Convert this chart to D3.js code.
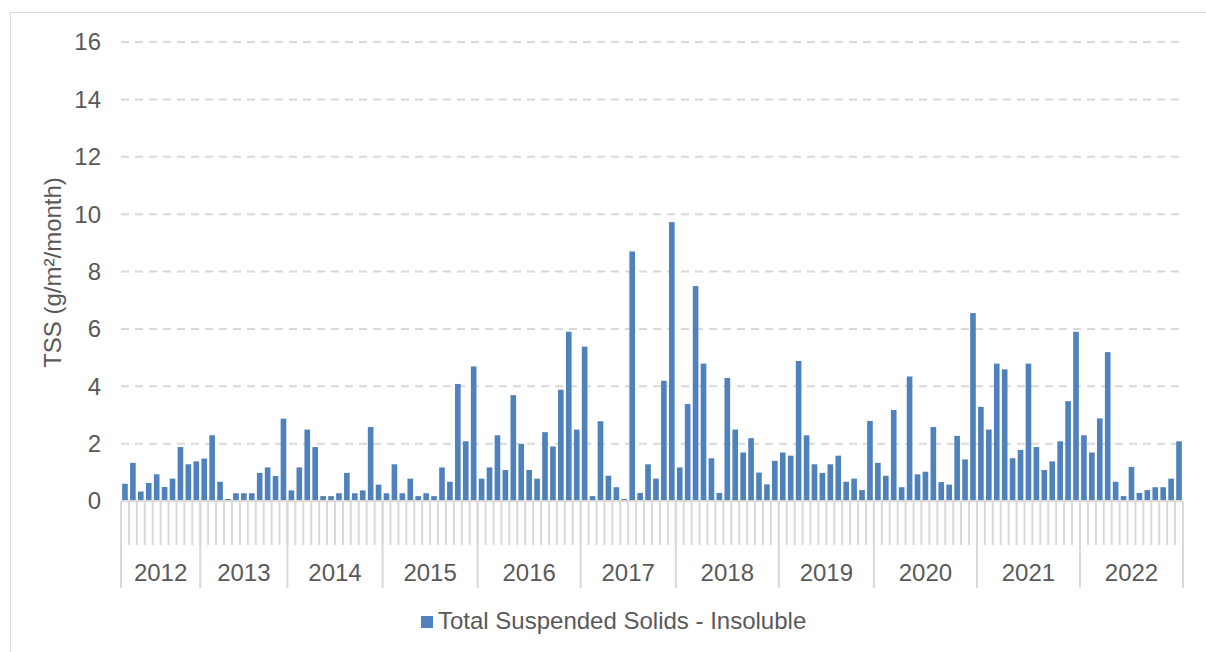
<!DOCTYPE html>
<html>
<head>
  <meta charset="UTF-8">
  <style>
    body { margin: 0; background: #fff; }
    svg { display: block; font-family: "Liberation Sans", Arial, Helvetica, sans-serif; }
    .tick-label { fill: #595959; font-size: 24px; }
    .grid { stroke: #d9d9d9; stroke-width: 2px; stroke-dasharray: 8, 6; }
    .axis-line { stroke: #d9d9d9; stroke-width: 2px; }
  </style>
</head>
<body>
<svg></svg>
<script src="https://d3js.org/d3.v7.min.js"></script>
<script>

// years shown on the category axis, and the samples in each year
let years = ["2012", "2013", "2014", "2015", "2016", "2017", "2018", "2019", "2020", "2021", "2022"];

let tss2012 = [0.6, 1.33, 0.33, 0.63, 0.93, 0.49, 0.78, 1.88, 1.28, 1.38];
let tss2013 = [1.48, 2.29, 0.67, 0.07, 0.27, 0.27, 0.27, 0.98, 1.17, 0.87, 2.87];
let tss2014 = [0.37, 1.17, 2.49, 1.88, 0.17, 0.17, 0.27, 0.98, 0.27, 0.37, 2.58, 0.57];
let tss2015 = [0.27, 1.28, 0.27, 0.78, 0.17, 0.27, 0.17, 1.17, 0.67, 4.08, 2.08, 4.69];
let tss2016 = [0.78, 1.17, 2.29, 1.08, 3.69, 1.99, 1.08, 0.78, 2.4, 1.9, 3.88, 5.9, 2.49];
let tss2017 = [5.38, 0.17, 2.78, 0.88, 0.48, 0.07, 8.7, 0.28, 1.28, 0.78, 4.19, 9.72];
let tss2018 = [1.17, 3.38, 7.49, 4.79, 1.49, 0.28, 4.29, 2.49, 1.69, 2.19, 0.99, 0.58, 1.4];
let tss2019 = [1.69, 1.58, 4.88, 2.29, 1.28, 0.98, 1.28, 1.58, 0.67, 0.78, 0.38, 2.79];
let tss2020 = [1.33, 0.88, 3.17, 0.48, 4.34, 0.93, 1.02, 2.58, 0.66, 0.57, 2.27, 1.45, 6.55];
let tss2021 = [3.28, 2.49, 4.79, 4.59, 1.49, 1.78, 4.79, 1.88, 1.08, 1.38, 2.08, 3.48, 5.9];
let tss2022 = [2.29, 1.69, 2.88, 5.19, 0.67, 0.17, 1.19, 0.28, 0.38, 0.48, 0.48, 0.78, 2.08];

let yTicks = [0, 2, 4, 6, 8, 10, 12, 14, 16];
let yTitle = "TSS (g/m²/month)";
let seriesName = "Total Suspended Solids - Insoluble";

let tssByYear = [tss2012, tss2013, tss2014, tss2015, tss2016, tss2017,
                 tss2018, tss2019, tss2020, tss2021, tss2022];

// flatten into one row per bar
let rows = [];
tssByYear.forEach((vals, yi) => {
    vals.forEach(v => rows.push({ year: years[yi], idx: rows.length, value: v }));
});

let width = 1206, height = 652;
let plotLeft = 121, plotRight = 1183, plotTop = 42, plotBottom = 501;

let svg = d3.select("svg")
    .attr("width", width)
    .attr("height", height);

// chart border
svg.append("rect")
    .attr("x", 10.5).attr("y", 12.5)
    .attr("width", 1220).attr("height", 680)
    .attr("fill", "none")
    .attr("stroke", "#d9d9d9")
    .attr("stroke-width", 1);

let x = d3.scaleBand()
    .domain(rows.map(d => d.idx))
    .range([plotLeft, plotRight])
    .paddingInner(0.29)
    .paddingOuter(0.145);

let y = d3.scaleLinear()
    .domain([0, 16])
    .range([plotBottom, plotTop]);

// gridlines
svg.append("g")
    .selectAll("line")
    .data(yTicks.filter(t => t > 0))
    .enter().append("line")
    .attr("class", "grid")
    .attr("x1", plotLeft).attr("x2", plotRight)
    .attr("y1", d => y(d)).attr("y2", d => y(d));

// y tick labels
svg.append("g")
    .selectAll("text")
    .data(yTicks)
    .enter().append("text")
    .attr("class", "tick-label")
    .attr("x", 101)
    .attr("y", d => y(d))
    .attr("dy", "0.35em")
    .attr("text-anchor", "end")
    .text(d => d);

// y title
svg.append("text")
    .attr("class", "tick-label")
    .attr("transform", "translate(61," + ((plotTop + plotBottom) / 2 + 1) + ") rotate(-90)")
    .attr("text-anchor", "middle")
    .text(yTitle);

// bars
svg.append("g")
    .selectAll("rect")
    .data(rows)
    .enter().append("rect")
    .attr("x", d => x(d.idx))
    .attr("width", x.bandwidth())
    .attr("y", d => y(d.value))
    .attr("height", d => y(0) - y(d.value))
    .attr("fill", "#4f81bd");

// category axis: short ticks between samples, long ticks between years
let step = x.step();
let boundaries = d3.range(rows.length + 1).map(i => plotLeft + i * step);

svg.append("g")
    .selectAll("line")
    .data(boundaries)
    .enter().append("line")
    .attr("class", "axis-line")
    .attr("x1", d => d).attr("x2", d => d)
    .attr("y1", plotBottom).attr("y2", 545);

let groups = [];
let start = 0;
tssByYear.forEach((vals, yi) => {
    groups.push({ year: years[yi], x0: plotLeft + start * step, x1: plotLeft + (start + vals.length) * step });
    start += vals.length;
});

let groupEdges = [plotLeft].concat(groups.map(g => g.x1));
svg.append("g")
    .selectAll("line")
    .data(groupEdges)
    .enter().append("line")
    .attr("class", "axis-line")
    .attr("x1", d => d).attr("x2", d => d)
    .attr("y1", plotBottom).attr("y2", 588);

svg.append("line")
    .attr("class", "axis-line")
    .attr("x1", plotLeft).attr("x2", plotRight)
    .attr("y1", plotBottom).attr("y2", plotBottom);

svg.append("g")
    .selectAll("text")
    .data(groups)
    .enter().append("text")
    .attr("class", "tick-label")
    .attr("x", d => (d.x0 + d.x1) / 2)
    .attr("y", 581)
    .attr("text-anchor", "middle")
    .text(d => d.year);

// legend
let legend = svg.append("g");
legend.append("rect")
    .attr("x", 421).attr("y", 616)
    .attr("width", 12).attr("height", 12)
    .attr("fill", "#4f81bd");
legend.append("text")
    .attr("class", "tick-label")
    .attr("x", 438).attr("y", 629)
    .text(seriesName);

</script>
</body>
</html>
